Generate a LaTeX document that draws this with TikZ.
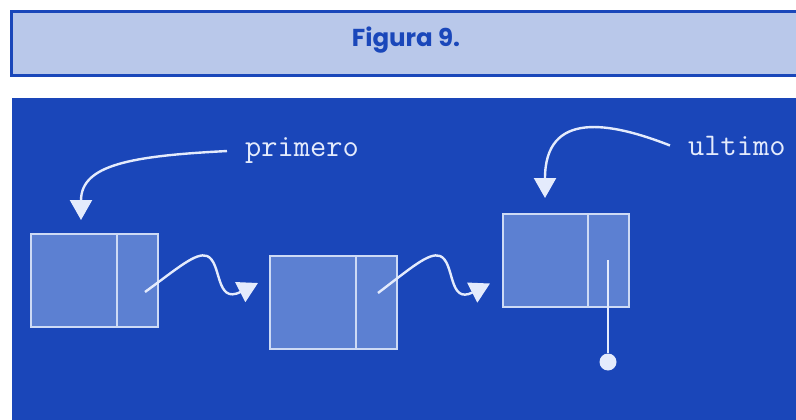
\documentclass[tikz,border=0pt]{standalone}
\usepackage{fontspec}
\newfontfamily\titlefont{Poppins}
\usetikzlibrary{arrows.meta,shapes.multipart}

\definecolor{hdrfill}{RGB}{185,200,234}
\definecolor{hdrline}{RGB}{26,71,186}
\definecolor{panelblue}{RGB}{26,70,185}
\definecolor{cellfill}{RGB}{92,128,210}
\definecolor{cellline}{RGB}{205,218,245}
\definecolor{ptrcol}{RGB}{228,235,252}

\begin{document}
\begin{tikzpicture}[x=1pt,y=-1pt,
		listnode/.style={rectangle split, rectangle split horizontal, rectangle split parts=2,
			draw=cellline, fill=cellfill, line width=2pt, inner sep=0pt, minimum height=93pt, anchor=north west},
		ptr/.style={draw=ptrcol, line width=2.4pt, -{Triangle[length=20pt,width=22pt]}},
		varname/.style={text=ptrcol, font=\ttfamily\fontsize{31.5}{34}\selectfont, inner sep=0pt, anchor=base west},
		nildot/.style={circle, fill=ptrcol, inner sep=0pt, minimum size=17pt}]
	
	\clip (0,0) rectangle (796,420);
	\fill [white] (0,0) rectangle (796,420);
	
	% caption bar
	\draw [hdrline, line width=3pt, fill=hdrfill] (11,11.3) rectangle (810,75.3);
	\node (title) [text=hdrline, font=\titlefont\bfseries\fontsize{24.5}{30}\selectfont, anchor=base] at (406,46.7) {Figura 9.};
	
	\fill [panelblue] (12,97.7) rectangle (810,430);
	
	\node [listnode] (n1) at (30,233) {\rule{85pt}{0pt}\nodepart{two}\rule{40pt}{0pt}};
	\node [listnode] (n2) at (269,255) {\rule{85pt}{0pt}\nodepart{two}\rule{40pt}{0pt}};
	\node [listnode] (n3) at (502,213) {\rule{84pt}{0pt}\nodepart{two}\rule{40pt}{0pt}};
	
	\node [varname] (primero) at (245,157) {primero};
	\node [varname] (ultimo) at (688,155) {ultimo};
	
	\coordinate (n1ptr) at ([xshift=-14pt,yshift=36pt]n1.south east);
	\coordinate (n2ptr) at ([xshift=-20pt,yshift=57pt]n2.south east);
	\coordinate (n3ptr) at ([xshift=-22pt,yshift=48pt]n3.south east);
	\node [nildot] (nil) at (608,362) {};
	
	\draw [ptr] ([xshift=-18pt]primero.west) .. controls (130,156) and (81,165) .. ([xshift=-13.5pt,yshift=13pt]n1.north);
	\draw [ptr] ([xshift=-18pt]ultimo.west) .. controls (610,122) and (545,110) .. ([xshift=-21pt,yshift=15pt]n3.north);
	
	\draw [ptr] (n1ptr) .. controls (178,268) and (196,252) .. (207,256) .. controls (222,262) and (215,305) .. ([xshift=-11pt,yshift=19.5pt]n2.west);
	\draw [ptr] (n2ptr) .. controls (411,268) and (429,252) .. (440,256) .. controls (455,262) and (448,305) .. ([xshift=-12pt,yshift=-23pt]n3.west);
	
	\draw [draw=ptrcol, line width=2pt] (n3ptr) -- (nil);
\end{tikzpicture}
\end{document}
